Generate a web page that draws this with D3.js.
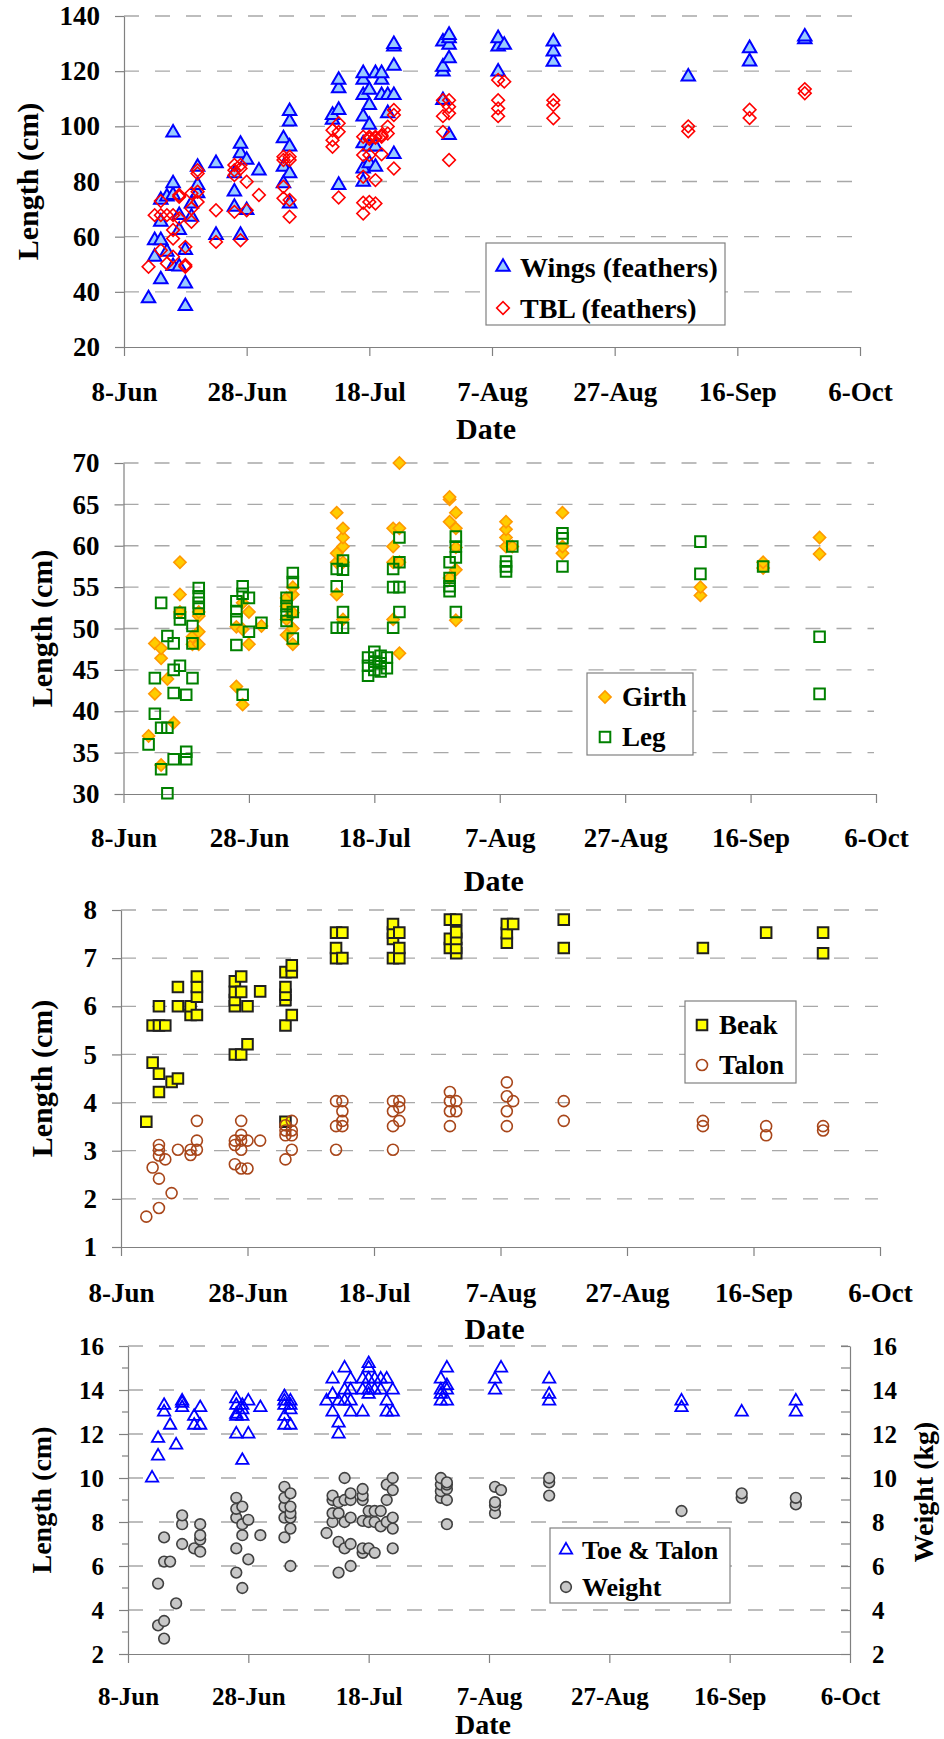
<!DOCTYPE html>
<html><head><meta charset="utf-8">
<script src="https://cdn.jsdelivr.net/npm/d3@7"></script>
<style>
body{margin:0;background:#fff}
</style>
</head><body>
<svg id="chart" width="944" height="1739"></svg>
<script>
// ---------------- DATA (month-day, values per date) ----------------
const dateTicks = ["06-08","06-28","07-18","08-07","08-27","09-16","10-06"];

const wings = [
 ["06-12",[37.6]],["06-13",[52.7,58.7]],["06-14",[44.5,58.7,65.4,73.3]],["06-15",[54.5,74.5]],
 ["06-16",[49.3,75.1,79.3,97.7]],["06-17",[49.1,62.4,67.8]],["06-18",[34.8,43.0,55.1]],
 ["06-19",[67.2,72.0]],["06-20",[75.7,78.7,85.3]],["06-23",[60.6,86.6]],
 ["06-26",[70.8,76.3,82.9]],["06-27",[60.6,90.2,93.6]],["06-28",[69.6,87.8]],["06-30",[83.9]],
 ["07-04",[79.3,85.3,95.6]],["07-05",[72.0,82.9,92.6,101.7,105.5]],["07-12",[102.3,104.1]],
 ["07-13",[78.7,105.9,113.8,116.8]],["07-17",[79.9,84.7,93.8,103.5,111.3,116.8,119.2]],
 ["07-18",[86.6,92.6,100.5,107.7,113.2]],["07-19",[85.3,92.6,119.2]],["07-20",[111.3,116.8,119.2]],
 ["07-21",[104.7,111.3]],["07-22",[89.9,111.3,121.9,128.9,129.8]],["07-30",[109.5,119.8,121.6,130.7]],
 ["07-31",[96.8,124.6,129.5,131.9,133.1]],["08-08",[119.8,128.9,131.9]],["08-09",[129.5]],
 ["08-17",[123.4,127.1,130.7]],["09-08",[118.0]],["09-18",[123.5,128.3]],["09-27",[131.5,132.5]]
];
const tbl = [
 ["06-12",[49.1]],["06-13",[67.8]],["06-14",[55.1,67.8,72.9]],["06-15",[50.3,67.8]],
 ["06-16",[52.7,59.3,62.4,67.8]],["06-17",[66.6,74.5,75.1]],["06-18",[49.1,49.7,56.3]],
 ["06-19",[65.4,70.2,75.7]],["06-20",[72.6,76.3,82.9,84.1]],["06-23",[58.1,69.6]],
 ["06-26",[69.0,82.3,84.1,86.0]],["06-27",[58.7,84.7,86.0]],["06-28",[69.6,79.9]],["06-30",[75.1]],
 ["07-04",[73.9,78.1,87.8,89.0]],["07-05",[67.2,73.3,87.8,89.0]],["07-12",[92.6,95.0,98.6]],
 ["07-13",[74.2,98.0,101.1]],["07-17",[68.4,72.3,81.7,89.6,96.2]],["07-18",[72.6,89.6,95.5,96.2]],
 ["07-19",[72.0,80.5,95.8,96.2]],["07-20",[89.9,96.2,96.8]],["07-21",[97.4,99.9]],
 ["07-22",[84.7,104.1,105.9]],["07-30",[98.0,103.7,109.5]],["07-31",[87.8,104.7,107.1,109.5]],
 ["08-08",[103.7,106.5,109.5,116.8]],["08-09",[116.2]],["08-17",[102.9,107.7,109.5]],
 ["09-08",[98.2,100.0]],["09-18",[103.0,106.0]],["09-27",[112.0,113.5]]
];
const girth = [
 ["06-12",[37.0]],["06-13",[42.1,48.2]],["06-14",[33.5,46.4,47.6]],["06-15",[43.9]],["06-16",[38.6]],
 ["06-17",[52.0,54.1,58.0]],["06-19",[48.1,49.0]],["06-20",[48.1,49.6,51.5,52.0]],
 ["06-26",[43.0,50.2]],["06-27",[40.8,49.9,53.1]],["06-28",[48.1,52.0]],["06-30",[50.3]],
 ["07-04",[49.2,51.1,52.7,53.7]],["07-05",[48.1,50.0,51.9,54.1,55.0]],["07-12",[54.1,58.0,59.1,64.0]],
 ["07-13",[51.1,58.0,59.9,61.0,62.1]],["07-21",[51.1,58.0,59.9,62.1]],["07-22",[47.0,58.0,62.1,70.0]],
 ["07-30",[56.1,62.9,65.6,65.9]],["07-31",[51.0,57.1,59.8,62.1,64.0]],["08-08",[59.9,61.0,62.0,62.9]],
 ["08-09",[59.9]],["08-17",[59.1,59.9,64.0]],["09-08",[54.0,55.0]],["09-18",[57.3,58.0]],["09-27",[59.0,61.0]]
];
const leg = [
 ["06-12",[36.0]],["06-13",[39.7,44.0]],["06-14",[33.0,38.0,53.1]],["06-15",[30.1,38.0,49.1]],
 ["06-16",[34.2,42.2,45.0,48.2]],["06-17",[45.5,51.1,51.9]],["06-18",[34.2,35.1,42.0]],
 ["06-19",[44.0,48.2,50.3]],["06-20",[52.4,53.1,53.9,54.9]],["06-26",[48.0,51.1,52.1,53.3]],
 ["06-27",[42.0,54.2,55.1]],["06-28",[49.6,53.7]],["06-30",[50.7]],["07-04",[50.9,51.7,52.7,53.7]],
 ["07-05",[48.8,52.0,55.6,56.7]],["07-12",[50.1,55.1,57.2]],["07-13",[50.1,52.0,57.1,58.2]],
 ["07-17",[44.3,45.5,46.5]],["07-18",[45.0,46.0,47.2]],["07-19",[44.8,45.8,46.7]],["07-20",[45.2,46.5]],
 ["07-21",[50.1,55.0,57.2]],["07-22",[52.0,55.0,58.0,61.0]],["07-30",[54.5,55.1,56.1,58.0]],
 ["07-31",[52.0,58.6,59.9,61.1]],["08-08",[56.9,57.5,58.1]],["08-09",[59.9]],["08-17",[57.5,60.9,61.5]],
 ["09-08",[56.6,60.5]],["09-18",[57.5]],["09-27",[42.1,49.0]]
];
const beak = [
 ["06-12",[3.6]],["06-13",[4.83,5.6]],["06-14",[4.22,4.6,5.6,6.0]],["06-15",[5.6]],["06-16",[4.43]],
 ["06-17",[4.5,6.0,6.4]],["06-19",[5.82,6.0]],["06-20",[5.82,6.2,6.4,6.62]],
 ["06-26",[5.0,6.0,6.13,6.3,6.52]],["06-27",[5.0,6.3,6.62]],["06-28",[5.21,6.0]],["06-30",[6.31]],
 ["07-04",[3.6,5.6,6.13,6.24,6.4,6.71]],["07-05",[5.82,6.71,6.85]],["07-12",[7.0,7.21,7.53]],
 ["07-13",[7.0,7.53]],["07-21",[7.0,7.4,7.53,7.71]],["07-22",[7.0,7.21,7.53]],["07-30",[7.21,7.4,7.8]],
 ["07-31",[7.1,7.21,7.4,7.54,7.8]],["08-08",[7.32,7.52,7.71]],["08-09",[7.71]],["08-17",[7.21,7.8]],
 ["09-08",[7.21]],["09-18",[7.53]],["09-27",[7.1,7.53]]
];
const talon = [
 ["06-12",[1.63]],["06-13",[2.65]],["06-14",[1.81,2.42,2.9,3.02,3.12]],["06-15",[2.82]],["06-16",[2.12]],
 ["06-17",[3.02]],["06-19",[2.91,3.02]],["06-20",[3.02,3.21,3.62]],["06-26",[2.72,3.12,3.21]],
 ["06-27",[2.63,3.02,3.21,3.33,3.62]],["06-28",[2.63,3.21]],["06-30",[3.21]],["07-04",[2.82,3.32,3.42,3.53]],
 ["07-05",[3.02,3.32,3.42,3.62]],["07-12",[3.02,3.51,4.03]],["07-13",[3.51,3.62,3.82,4.03]],
 ["07-21",[3.02,3.51,3.82,4.03]],["07-22",[3.62,3.9,4.03]],["07-30",[3.51,3.82,4.03,4.22]],
 ["07-31",[3.82,4.03]],["08-08",[3.51,3.82,4.13,4.42]],["08-09",[4.03]],["08-17",[3.62,4.03]],
 ["09-08",[3.51,3.62]],["09-18",[3.32,3.51]],["09-27",[3.42,3.51]]
];
const toeTalon = [
 ["06-12",[10.0]],["06-13",[11.0,11.8]],["06-14",[13.0,13.3]],["06-15",[12.4]],["06-16",[11.5]],
 ["06-17",[13.2,13.4,13.5]],["06-19",[12.4,12.8]],["06-20",[12.4,13.2]],["06-26",[12.0,12.8,12.9,13.3,13.6]],
 ["06-27",[10.8,12.8,13.1,13.3]],["06-28",[12.0,13.5]],["06-30",[13.2]],["07-04",[12.4,12.8,13.3,13.5,13.7]],
 ["07-05",[12.4,13.1,13.3,13.5]],["07-11",[13.5]],["07-12",[13.0,13.8,14.5]],["07-13",[12.0,12.5,13.5]],
 ["07-14",[13.5,14.0,15.0]],["07-15",[13.0,13.5,14.0,14.5]],["07-17",[13.0,14.0,14.5]],
 ["07-18",[13.8,14.0,14.5,15.0,15.2]],["07-19",[14.0,14.5]],["07-20",[14.0,14.5]],["07-21",[13.0,13.5,14.5]],
 ["07-22",[13.0,14.0]],["07-30",[13.5,13.8,14.0,14.5]],["07-31",[13.5,14.0,14.2,15.0]],["08-08",[14.0,14.5]],
 ["08-09",[15.0]],["08-17",[13.5,13.8,14.5]],["09-08",[13.2,13.5]],["09-18",[13.0]],["09-27",[13.0,13.5]]
];
const weight = [
 ["06-13",[3.3,5.2]],["06-14",[2.7,3.5,6.2,7.3]],["06-15",[6.2]],["06-16",[4.3]],["06-17",[7.0,7.9,8.3]],
 ["06-19",[6.8]],["06-20",[6.65,7.2,7.4,7.9]],["06-26",[5.7,6.8,8.2,8.6,9.1]],["06-27",[5.0,7.4,7.9,8.7]],
 ["06-28",[6.3,8.1]],["06-30",[7.4]],["07-04",[7.3,8.2,8.7,9.1,9.6]],["07-05",[6.0,7.7,8.2,8.4,8.7,9.3]],
 ["07-11",[7.5]],["07-12",[8.0,8.4,9.0,9.2]],["07-13",[5.7,7.1,8.4,8.9]],["07-14",[6.8,8.0,9.0,10.0]],
 ["07-15",[6.0,7.0,8.2,9.0,9.3]],["07-17",[6.6,6.8,8.05,9.0,9.2,9.5]],["07-18",[6.8,8.0,8.5]],
 ["07-19",[6.6,8.0,8.5]],["07-20",[7.8,8.5]],["07-21",[8.0,9.0,9.7]],["07-22",[6.8,7.7,8.2,9.45,10.0]],
 ["07-30",[9.1,9.4,9.7,10.0]],["07-31",[7.9,9.0,9.5,9.7,9.8]],["08-08",[8.4,8.75,8.9,9.6]],["08-09",[9.45]],
 ["08-17",[9.2,9.8,10.0]],["09-08",[8.5]],["09-18",[9.1,9.3]],["09-27",[8.8,9.1]]
];

// ---------------- RENDERING ----------------
const FONT = '"Liberation Serif", "DejaVu Serif", "Times New Roman", Times, serif';
const parse = s => d3.utcParse("%Y-%m-%d")("2003-" + s);
const fmt = d3.utcFormat("%-d-%b");
const flat = arr => arr.flatMap(([d, vs]) => vs.map(v => ({date: parse(d), value: v})));
const svg = d3.select("#chart");
const AXIS = "#808080", GRID = "#a8a8a8";

const markers = {
  wings:  {shape: d3.symbolTriangle, size: 78, fill: "#99ccff", stroke: "#0000ff", sw: 2},
  tbl:    {shape: d3.symbolSquare, size: 80, rot: 45, fill: "none", stroke: "#ff0000", sw: 1.6},
  girth:  {shape: d3.symbolSquare, size: 74, rot: 45, fill: "#ffcc00", stroke: "#ff9900", sw: 1.6},
  leg:    {shape: d3.symbolSquare, size: 112, fill: "none", stroke: "#008000", sw: 2},
  beak:   {shape: d3.symbolSquare, size: 112, fill: "#ffff00", stroke: "#202020", sw: 2},
  talon:  {shape: d3.symbolCircle, size: 95, fill: "none", stroke: "#a8461a", sw: 1.6},
  toe:    {shape: d3.symbolTriangle, size: 66, fill: "none", stroke: "#0000ff", sw: 1.8},
  weight: {shape: d3.symbolCircle, size: 90, fill: "#c8c8c8", stroke: "#404040", sw: 1.6}
};

function drawMarker(sel, m) {
  sel.attr("d", d3.symbol(m.shape, m.size)())
     .attr("fill", m.fill).attr("stroke", m.stroke).attr("stroke-width", m.sw);
}

function panel(cfg) {
  const g = svg.append("g");
  const x = d3.scaleUtc().domain([parse(dateTicks[0]), parse(dateTicks[dateTicks.length-1])]).range([cfg.x0, cfg.x1]);
  const y = d3.scaleLinear().domain(cfg.yDomain).range([cfg.yB, cfg.yT]);

  // gridlines
  g.append("g").selectAll("line").data(cfg.grid).join("line")
    .attr("x1", cfg.x0).attr("x2", cfg.x1 - 2)
    .attr("y1", d => y(d)).attr("y2", d => y(d))
    .attr("stroke", GRID).attr("stroke-width", 1.3).attr("stroke-dasharray", "15,16");

  // y axis
  const ya = d3.axisLeft(y).tickValues(cfg.yTicks).tickSize(9).tickSizeOuter(0).tickPadding(15).tickFormat(d3.format("d"));
  const gy = g.append("g").attr("transform", `translate(${cfg.x0},0)`).call(ya);
  if (cfg.minor) {
    gy.selectAll(".minor").data(cfg.minor).join("line").attr("class", "minor")
      .attr("x1", -6).attr("x2", 0).attr("y1", d => y(d)).attr("y2", d => y(d));
  }
  gy.selectAll("line,path").attr("stroke", AXIS).attr("stroke-width", 1.2);
  gy.selectAll("text").attr("font-size", cfg.tickFont).attr("fill", "#000");

  // x axis
  const xa = d3.axisBottom(x).tickValues(dateTicks.map(parse)).tickFormat(fmt).tickSize(9).tickSizeOuter(0);
  const gx = g.append("g").attr("transform", `translate(0,${cfg.yB})`).call(xa);
  gx.selectAll("line,path").attr("stroke", AXIS).attr("stroke-width", 1.2);
  gx.selectAll("text").attr("font-size", cfg.tickFont).attr("fill", "#000")
    .attr("y", cfg.xLabelDy).attr("dy", "0.35em");

  // right axis (optional)
  if (cfg.right) {
    const ra = d3.axisRight(y).tickValues(cfg.yTicks).tickSizeInner(-9).tickSizeOuter(0).tickPadding(22).tickFormat(d3.format("d"));
    const gr = g.append("g").attr("transform", `translate(${cfg.x1},0)`).call(ra);
    gr.selectAll(".minor").data(cfg.minor).join("line").attr("class", "minor")
      .attr("x1", -9).attr("x2", 0).attr("y1", d => y(d)).attr("y2", d => y(d));
    gr.selectAll("line,path").attr("stroke", AXIS).attr("stroke-width", 1.2);
    gr.selectAll("text").attr("font-size", cfg.tickFont).attr("fill", "#000");
    g.append("text").attr("transform", `translate(${cfg.rightTitleX},${(cfg.yT + cfg.yB) / 2 - 8}) rotate(-90)`)
      .attr("text-anchor", "middle").attr("dy", "0.35em").attr("font-size", cfg.titleFont).text(cfg.right);
  }

  // titles
  g.append("text").attr("x", (cfg.x0 + cfg.x1) / 2 - 6).attr("y", cfg.dateY).attr("dy", "0.35em")
    .attr("text-anchor", "middle").attr("font-size", cfg.titleFont).text("Date");
  g.append("text").attr("transform", `translate(${cfg.titleX},${(cfg.yT + cfg.yB) / 2}) rotate(-90)`)
    .attr("text-anchor", "middle").attr("dy", "0.35em").attr("font-size", cfg.titleFont).text("Length (cm)");

  // series (both y axes share the same scale in the bottom panel)
  cfg.series.forEach(s => {
    const m = markers[s.marker];
    g.append("g").selectAll("path").data(flat(s.data)).join("path")
      .attr("transform", d => `translate(${x(d.date)},${y(d.value)})` + (m.rot ? ` rotate(${m.rot})` : ""))
      .call(drawMarker, m);
  });

  // legend
  const L = cfg.legend;
  const lg = g.append("g");
  lg.append("rect").attr("x", L.x).attr("y", L.y).attr("width", L.w).attr("height", L.h)
    .attr("fill", "#fff").attr("stroke", AXIS).attr("stroke-width", 1.2);
  cfg.series.forEach((s, i) => {
    const m = markers[s.marker];
    const cy = L.y + L.rows[i];
    lg.append("path").attr("transform", `translate(${L.mx},${cy})` + (m.rot ? ` rotate(${m.rot})` : ""))
      .call(drawMarker, m);
    lg.append("text").attr("x", L.tx).attr("y", cy).attr("dy", "0.35em")
      .attr("font-size", L.font).text(s.name);
  });
}

panel({
  x0: 124, x1: 860, yT: 16, yB: 347, yDomain: [20, 140],
  yTicks: d3.range(20, 141, 20), grid: d3.range(40, 141, 20),
  tickFont: 27, titleFont: 30, xLabelDy: 45, dateY: 428, titleX: 27,
  series: [{name: "Wings (feathers)", marker: "wings", data: wings}, {name: "TBL (feathers)", marker: "tbl", data: tbl}],
  legend: {x: 486, y: 243, w: 239, h: 82, rows: [24, 65], mx: 503, tx: 520, font: 28}
});
panel({
  x0: 123.5, x1: 876, yT: 463, yB: 794, yDomain: [30, 70],
  yTicks: d3.range(30, 71, 5), grid: d3.range(35, 71, 5),
  tickFont: 27, titleFont: 30, xLabelDy: 44, dateY: 880, titleX: 41,
  series: [{name: "Girth", marker: "girth", data: girth}, {name: "Leg", marker: "leg", data: leg}],
  legend: {x: 587, y: 673, w: 106, h: 82, rows: [24, 64], mx: 605, tx: 622, font: 27}
});
panel({
  x0: 121, x1: 880, yT: 910, yB: 1247, yDomain: [1, 8],
  yTicks: d3.range(1, 9, 1), grid: d3.range(2, 9, 1),
  tickFont: 27, titleFont: 30, xLabelDy: 46, dateY: 1328, titleX: 41,
  series: [{name: "Beak", marker: "beak", data: beak}, {name: "Talon", marker: "talon", data: talon}],
  legend: {x: 685, y: 1001, w: 111, h: 82, rows: [24, 64], mx: 702, tx: 719, font: 27}
});
panel({
  x0: 128, x1: 850, yT: 1346, yB: 1654, yDomain: [2, 16],
  yTicks: d3.range(2, 17, 2), grid: d3.range(4, 17, 2), minor: d3.range(3, 16, 2),
  tickFont: 25, titleFont: 28, xLabelDy: 42, dateY: 1724, titleX: 41,
  right: "Weight (kg)", rightTitleX: 923,
  series: [{name: "Toe & Talon", marker: "toe", data: toeTalon}, {name: "Weight", marker: "weight", data: weight}],
  legend: {x: 550, y: 1528, w: 180, h: 75, rows: [22, 59], mx: 566, tx: 582, font: 26}
});

// typography for every text (overrides d3 axis defaults)
svg.selectAll("text").attr("font-family", FONT).style("font-family", FONT).style("font-weight", "bold").attr("fill", "#000");
</script>
</body></html>
